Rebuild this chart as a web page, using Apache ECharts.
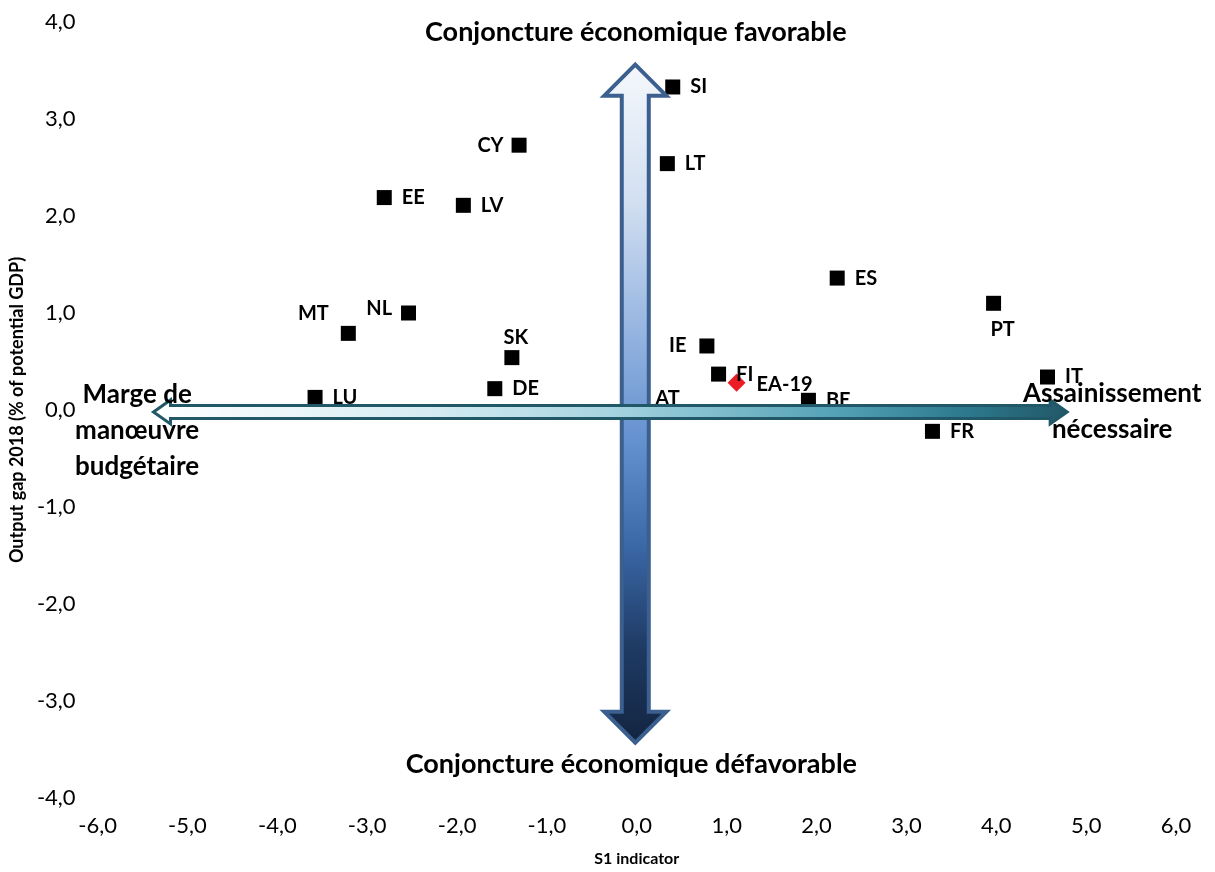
<!DOCTYPE html>
<html><head><meta charset="utf-8">
<script src="https://cdn.jsdelivr.net/npm/echarts@6/dist/echarts.min.js"></script>
<style>html,body{margin:0;padding:0;background:#fff}#c{width:1215px;height:872px}</style>
</head><body><div id="c"></div>
<script>
// ---- data ----
const countries = ['SI','LT','CY','EE','LV','ES','PT','MT','NL','SK','IE','FI','IT','DE','LU','AT','BE','FR'];
const s1Indicator = [0.40,0.34,-1.31,-2.81,-1.93,2.23,3.97,-3.21,-2.54,-1.39,0.78,0.91,4.57,-1.58,-3.58,0.01,1.91,3.29];
const outputGap2018 = [3.33,2.54,2.73,2.19,2.11,1.36,1.10,0.79,1.00,0.54,0.66,0.37,0.34,0.22,0.13,0.12,0.10,-0.22];
const euroArea = ['EA-19'];
const euroAreaS1 = [1.11];
const euroAreaGap = [0.28];
const xRange = [-6, 6];
const yRange = [-4, 4];
const topText = 'Conjoncture économique favorable';
const bottomText = 'Conjoncture économique défavorable';
const leftText = 'Marge de\nmanœuvre\nbudgétaire';
const rightText = 'Assainissement\nnécessaire';

// ---- label placement (style, not data) ----
const labelPlacement = {
  CY:{position:'left',distance:8},
  NL:{position:'left',distance:9,offset:[0,-4]},
  MT:{position:'left',distance:12,offset:[0,-20]},
  SK:{position:'top',distance:3,offset:[4,0]},
  PT:{position:'bottom',distance:9,offset:[9,0]},
  IE:{position:'left',distance:13}
};

const FONT = 'Lato, "Open Sans", sans-serif';
const fmt = v => v.toFixed(1).replace('.', ',');

const chart = echarts.init(document.getElementById('c'), null, {renderer:'canvas'});

const pts = countries.map((c,i) => {
  const lp = labelPlacement[c] || {position:'right',distance:10};
  return {
    name:c, value:[s1Indicator[i], outputGap2018[i]],
    label:Object.assign({show:true, formatter:c}, lp)
  };
});
const eaPts = euroArea.map((c,i)=>({name:c, value:[euroAreaS1[i], euroAreaGap[i]],
  label:{show:true, formatter:c, position:'right', distance:11, offset:[0,2]}}));

const labelFont = {fontFamily:FONT, fontWeight:'bold', fontSize:20, color:'#000'};

chart.setOption({
  animation:false,
  backgroundColor:'#fff',
  grid:{left:96, right:39, top:22, bottom:70},
  xAxis:{
    type:'value', min:xRange[0], max:xRange[1], interval:1,
    name:'S1 indicator', nameLocation:'middle', nameGap:53,
    nameTextStyle:{fontFamily:FONT, fontWeight:'bold', fontSize:16, color:'#000'},
    axisLine:{show:false}, axisTick:{show:false}, splitLine:{show:false},
    axisLabel:{formatter:fmt, fontFamily:FONT, fontSize:22, color:'#000', margin:17}
  },
  yAxis:{
    type:'value', min:yRange[0], max:yRange[1], interval:1,
    name:'Output gap 2018 (% of potential GDP)', nameLocation:'middle', nameGap:64,
    nameTextStyle:{fontFamily:FONT, fontWeight:'bold', fontSize:18, color:'#000'},
    axisLine:{show:false}, axisTick:{show:false}, splitLine:{show:false},
    axisLabel:{formatter:fmt, fontFamily:FONT, fontSize:22, color:'#000', margin:22}
  },
  series:[
    {type:'scatter', symbol:'rect', symbolSize:15, z:2,
     itemStyle:{color:'#000', opacity:1},
     label:labelFont, emphasis:{disabled:true},
     data:pts},
    {type:'scatter', symbol:'diamond', symbolSize:18, z:2,
     itemStyle:{color:'#ec1c24', opacity:1},
     label:labelFont, emphasis:{disabled:true},
     data:eaPts}
  ]
});

// ---- annotation arrows & texts, anchored to axis coordinates ----
const P = (x,y) => chart.convertToPixel({gridIndex:0}, [x,y]);

// vertical arrow
const vTop = P(-0.017, 3.56), vBot = P(-0.017, -3.43);
const vcx = vTop[0], vhl = 31, vhw = 31, vsw = 13.5;
const vPoly = [[vcx,vTop[1]],[vcx+vhw,vTop[1]+vhl],[vcx+vsw,vTop[1]+vhl],[vcx+vsw,vBot[1]-vhl],
  [vcx+vhw,vBot[1]-vhl],[vcx,vBot[1]],[vcx-vhw,vBot[1]-vhl],[vcx-vsw,vBot[1]-vhl],
  [vcx-vsw,vTop[1]+vhl],[vcx-vhw,vTop[1]+vhl]];

// horizontal arrow
const hL = P(-5.378, -0.02), hR = P(4.789, -0.02);
const hcy = hL[1], hhl = 17, hhw = 12, hsw = 6.5;
const hPoly = [[hL[0],hcy],[hL[0]+hhl,hcy-hhw],[hL[0]+hhl,hcy-hsw],[hR[0]-hhl,hcy-hsw],
  [hR[0]-hhl,hcy-hhw],[hR[0],hcy],[hR[0]-hhl,hcy+hhw],[hR[0]-hhl,hcy+hsw],
  [hL[0]+hhl,hcy+hsw],[hL[0]+hhl,hcy+hhw]];

const tTop = P(-0.01, 3.897), tBot = P(-0.06, -3.65);
const tLeft = P(-5.56, -0.21), tRight = P(5.29, -0.02);

const textEl = (txt, pos, size) => ({
  type:'text', z:60, x:pos[0], y:pos[1],
  style:{text:txt, align:'center', verticalAlign:'middle', fontFamily:FONT,
         fontWeight:'bold', fontSize:size, lineHeight:36, fill:'#000'}
});

chart.setOption({
  graphic:[
    {type:'polygon', z:50, shape:{points:vPoly},
     style:{fill:new echarts.graphic.LinearGradient(0,0,0,1,[
       {offset:0,color:'#f5f8fc'},{offset:0.2,color:'#d3e0f1'},{offset:0.4,color:'#93b3e0'},
       {offset:0.55,color:'#6592d0'},{offset:0.71,color:'#3a67a6'},{offset:0.86,color:'#1e3a63'},
       {offset:1,color:'#132440'}]),
       stroke:'#3b5f8e', lineWidth:4, lineJoin:'miter'}},
    {type:'polygon', z:51, shape:{points:hPoly},
     style:{fill:new echarts.graphic.LinearGradient(0,0,1,0,[
       {offset:0,color:'#ffffff'},{offset:0.3,color:'#d6ecf2'},{offset:0.5,color:'#a6d4e0'},
       {offset:0.75,color:'#52a1b5'},{offset:0.88,color:'#2e7b8f'},{offset:1,color:'#215868'}]),
       stroke:'#215868', lineWidth:3, lineJoin:'miter'}},
    textEl(topText, tTop, 27),
    textEl(bottomText, tBot, 27),
    textEl(leftText, tLeft, 26),
    textEl(rightText, tRight, 26)
  ]
});
</script>
</body></html>
